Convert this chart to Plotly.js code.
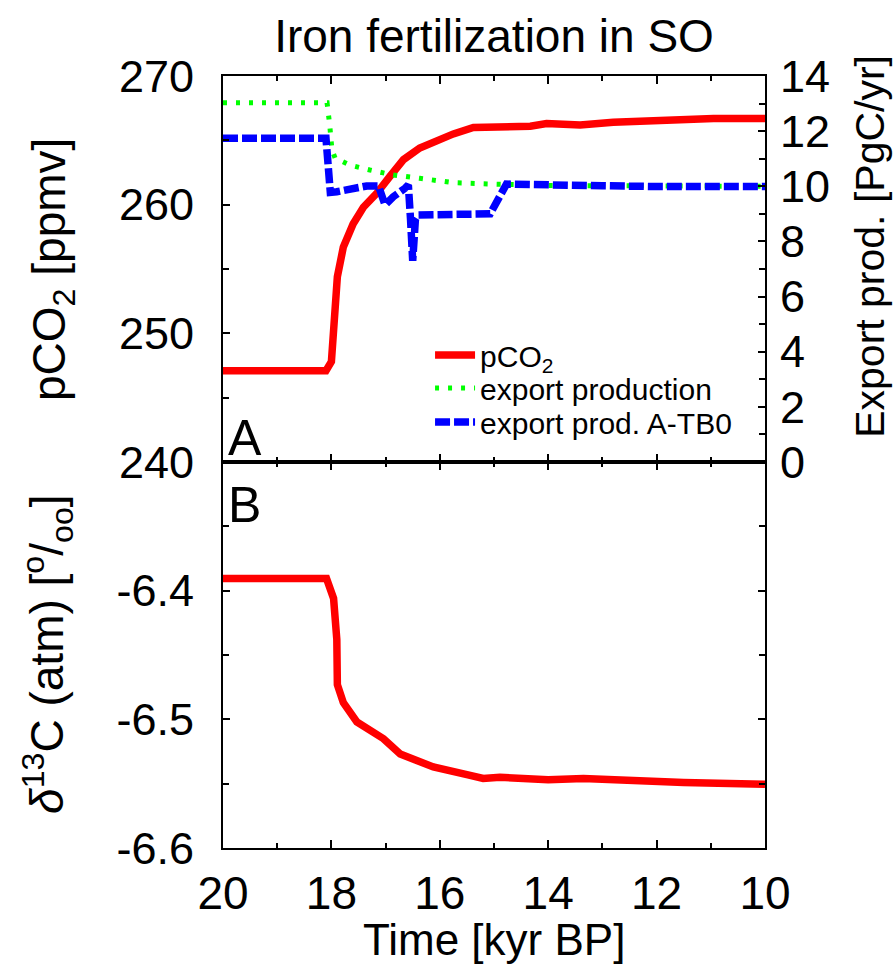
<!DOCTYPE html>
<html>
<head>
<meta charset="utf-8">
<script src="https://cdn.plot.ly/plotly-3.0.1.min.js"></script>
<style>
  html, body { margin: 0; padding: 0; background: #fff; }
  #chart { width: 896px; height: 964px; }
</style>
</head>
<body>
<div id="chart"></div>
<script>
// Atmospheric pCO2 response (ppmv)
const timeCO2 = [20, 18.1, 18.0, 17.93, 17.89, 17.78, 17.6, 17.41, 17.16, 16.92, 16.67, 16.37, 16.06, 15.75, 15.38, 15.0, 14.64, 14.33, 14.03, 13.41, 12.8, 12.18, 11.57, 10.95, 10.0];
const pco2 = [247.1, 247.1, 247.8, 252.2, 254.4, 256.7, 258.5, 259.8, 260.9, 262.2, 263.5, 264.4, 265.0, 265.5, 266.0, 266.0, 266.0, 266.1, 266.3, 266.2, 266.4, 266.5, 266.6, 266.7, 266.7];

// Export production (PgC/yr)
const timeExport = [20, 18.08, 18.03, 17.99, 17.93, 17.66, 17.29, 16.86, 16.37, 15.75, 15.01, 14.5, 14.0, 13.0, 12.0, 11.0, 10.0];
const exportProd = [13.03, 13.03, 12.2, 11.32, 11.02, 10.77, 10.59, 10.41, 10.29, 10.13, 10.08, 10.05, 10.03, 10.02, 10.0, 10.0, 10.0];

// Export production, run A-TB0 (PgC/yr)
const timeATB0 = [20, 18.1, 18.02, 17.9, 17.35, 17.13, 17.01, 16.86, 16.64, 16.58, 16.54, 16.5, 16.45, 16.4, 15.75, 15.07, 14.77, 14.5, 14.0, 13.0, 12.0, 11.0, 10.0];
const exportATB0 = [11.74, 11.74, 9.78, 9.8, 10.01, 10.01, 9.32, 9.62, 9.93, 10.05, 8.8, 7.3, 8.8, 8.96, 8.98, 9.0, 10.08, 10.08, 10.05, 10.02, 9.99, 9.99, 9.99];

// Atmospheric d13C (permil)
const timeD13 = [20, 18.09, 17.96, 17.9, 17.89, 17.78, 17.53, 17.29, 17.04, 16.73, 16.12, 15.5, 15.2, 14.89, 14.5, 14.0, 13.35, 12.43, 11.5, 10.0];
const d13C = [-6.3905, -6.3905, -6.406, -6.438, -6.473, -6.487, -6.502, -6.508, -6.515, -6.527, -6.537, -6.543, -6.546, -6.545, -6.546, -6.547, -6.546, -6.548, -6.549, -6.5505];

const xTicks = [20, 18, 16, 14, 12, 10];
const pco2Ticks = [240, 250, 260, 270];
const exportTicks = [0, 2, 4, 6, 8, 10, 12, 14];
const d13Ticks = [-6.6, -6.5, -6.4];

const FONT = 'Liberation Sans, Arial, Helvetica, sans-serif';
const RED = '#ff0000', GREEN = '#00ff00', BLUE = '#0000ff';

const traces = [
  { x: timeCO2, y: pco2, xaxis: 'x2', yaxis: 'y2', mode: 'lines', name: 'pCO<sub>2</sub>',
    line: { color: RED, width: 7.5 }, legend: 'legend' },
  { x: timeExport, y: exportProd, xaxis: 'x2', yaxis: 'y3', mode: 'lines', name: 'export production',
    line: { color: GREEN, width: 5, dash: '4px,9px' }, legend: 'legend2' },
  { x: timeATB0, y: exportATB0, xaxis: 'x2', yaxis: 'y3', mode: 'lines', name: 'export prod. A-TB0',
    line: { color: BLUE, width: 7.5, dash: '15px,4px' }, legend: 'legend3' },
  { x: timeD13, y: d13C, xaxis: 'x', yaxis: 'y', mode: 'lines', showlegend: false,
    line: { color: RED, width: 7.5 } }
];

const axisBase = {
  showgrid: false, zeroline: false, showline: true, linecolor: '#000', linewidth: 2,
  ticks: 'inside', ticklen: 8, tickwidth: 2, tickcolor: '#000',
  tickfont: { family: FONT, size: 45, color: '#000' }
};

function legendAt(y) {
  return {
    x: 0.382, y: y, xref: 'paper', yref: 'paper', xanchor: 'left', yanchor: 'middle',
    bgcolor: 'rgba(0,0,0,0)', borderwidth: 0, itemwidth: 40,
    font: { family: FONT, size: 30, color: '#000' }
  };
}

const layout = {
  width: 896, height: 964,
  margin: { l: 223, r: 131, t: 76, b: 116 },
  paper_bgcolor: '#fff', plot_bgcolor: 'rgba(0,0,0,0)',
  font: { family: FONT, color: '#000' },
  title: { text: 'Iron fertilization in SO', x: 0.5, xref: 'paper', y: 0.963, yref: 'container',
           yanchor: 'middle', font: { family: FONT, size: 46, color: '#000' } },
  xaxis: Object.assign({}, axisBase, {
    domain: [0, 1], anchor: 'y', range: [20, 10], mirror: 'ticks',
    tickvals: xTicks, ticktext: xTicks.map(String), ticklabelstandoff: 4,
    tickfont: { family: FONT, size: 46, color: '#000' },
    minor: { dtick: 1, ticklen: 5, tickwidth: 2, tickcolor: '#000', ticks: 'inside', showgrid: false }
  }),
  xaxis2: Object.assign({}, axisBase, {
    domain: [0, 1], anchor: 'y2', range: [20, 10], matches: 'x', mirror: 'ticks',
    tickvals: xTicks, showticklabels: false,
    minor: { dtick: 1, ticklen: 5, tickwidth: 2, tickcolor: '#000', ticks: 'inside', showgrid: false }
  }),
  yaxis: Object.assign({}, axisBase, {
    domain: [0, 0.5], anchor: 'x', range: [-6.6, -6.3], mirror: 'ticks',
    tickvals: d13Ticks, ticktext: d13Ticks.map(v => v.toFixed(1)), ticklabelstandoff: 18,
    ticklen: 7,
    minor: { tickvals: [-6.55, -6.45, -6.35], ticklen: 6, tickwidth: 2, tickcolor: '#000', ticks: 'inside', showgrid: false }
  }),
  yaxis2: Object.assign({}, axisBase, {
    domain: [0.5, 1], anchor: 'x2', range: [240, 270], mirror: true,
    tickvals: pco2Ticks, ticktext: pco2Ticks.map(String), ticklabelstandoff: 18,
    ticklen: 7,
    minor: { tickvals: [245, 255, 265], ticklen: 6, tickwidth: 2, tickcolor: '#000', ticks: 'inside', showgrid: false }
  }),
  yaxis3: Object.assign({}, axisBase, {
    overlaying: 'y2', anchor: 'x2', side: 'right', range: [0, 14], showline: false,
    tickvals: exportTicks, ticktext: exportTicks.map(String), ticklabelstandoff: 14,
    ticklen: 7,
    minor: { dtick: 1, ticklen: 6, tickwidth: 2, tickcolor: '#000', ticks: 'inside', showgrid: false }
  }),
  legend: legendAt(0.6386),
  legend2: legendAt(0.5959),
  legend3: legendAt(0.5518),
  annotations: [
    { text: 'pCO<sub>2</sub> [ppmv]', xref: 'paper', yref: 'paper', x: -0.3155, y: 0.75,
      xanchor: 'center', yanchor: 'middle', textangle: -90, showarrow: false,
      font: { family: FONT, size: 46, color: '#000' } },
    { text: '<i>δ</i><sup>13</sup>C (atm) [<sup>o</sup>/<sub>oo</sub>]', xref: 'paper', yref: 'paper',
      x: -0.323, y: 0.2513, xanchor: 'center', yanchor: 'middle', textangle: -90, showarrow: false,
      font: { family: FONT, size: 46, color: '#000' } },
    { text: 'Export prod. [PgC/yr]', xref: 'paper', yref: 'paper', x: 1.1937, y: 0.7800,
      xanchor: 'center', yanchor: 'middle', textangle: -90, showarrow: false,
      font: { family: FONT, size: 41, color: '#000' } },
    { text: 'Time [kyr BP]', xref: 'paper', yref: 'paper', x: 0.5, y: -0.1180,
      xanchor: 'center', yanchor: 'middle', showarrow: false,
      font: { family: FONT, size: 44, color: '#000' } },
    { text: 'A', xref: 'paper', yref: 'paper', x: 0.006, y: 0.531,
      xanchor: 'left', yanchor: 'middle', showarrow: false,
      font: { family: FONT, size: 50, color: '#000' } },
    { text: 'B', xref: 'paper', yref: 'paper', x: 0.006, y: 0.444,
      xanchor: 'left', yanchor: 'middle', showarrow: false,
      font: { family: FONT, size: 50, color: '#000' } }
  ]
};

Plotly.newPlot('chart', traces, layout, { displayModeBar: false, staticPlot: true });
</script>
</body>
</html>
